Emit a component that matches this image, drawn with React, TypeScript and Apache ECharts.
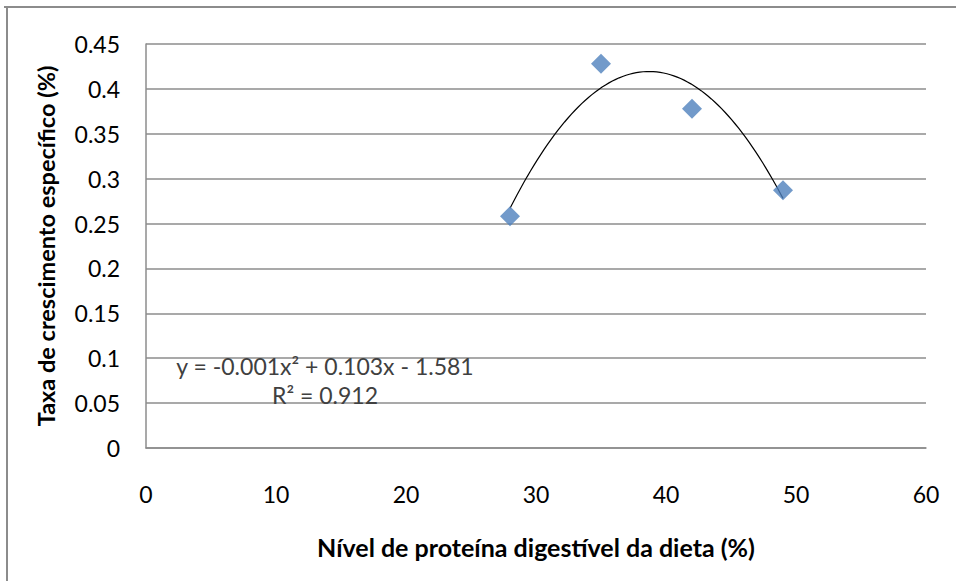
import React, { useEffect, useRef } from "react";
import * as echarts from "echarts";

// Data
const proteinLevels: number[] = [28, 35, 42, 49];
const growthRates: number[] = [0.258, 0.428, 0.378, 0.287];

const xTicks = { min: 0, max: 60, interval: 10 };
const yTicks = { min: 0, max: 0.45, interval: 0.05 };

const xTitle = "Nível de proteína digestível da dieta (%)";
const yTitle = "Taxa de crescimento específico (%)";
const equationText = "y = -0.001x² + 0.103x - 1.581";
const r2Text = "R² = 0.912";

// Least-squares quadratic fit (the trendline of the original)
function quadFit(xs: number[], ys: number[]): [number, number, number] {
  const n = xs.length;
  let s0 = n, s1 = 0, s2 = 0, s3 = 0, s4 = 0, t0 = 0, t1 = 0, t2 = 0;
  for (let i = 0; i < n; i++) {
    const x = xs[i], y = ys[i];
    s1 += x; s2 += x * x; s3 += x * x * x; s4 += x * x * x * x;
    t0 += y; t1 += x * y; t2 += x * x * y;
  }
  const M = [
    [s4, s3, s2, t2],
    [s3, s2, s1, t1],
    [s2, s1, s0, t0],
  ];
  for (let c = 0; c < 3; c++) {
    let p = c;
    for (let r = c + 1; r < 3; r++) if (Math.abs(M[r][c]) > Math.abs(M[p][c])) p = r;
    [M[c], M[p]] = [M[p], M[c]];
    for (let r = 0; r < 3; r++) {
      if (r === c) continue;
      const f = M[r][c] / M[c][c];
      for (let k = c; k < 4; k++) M[r][k] -= f * M[c][k];
    }
  }
  return [M[0][3] / M[0][0], M[1][3] / M[1][1], M[2][3] / M[2][2]];
}

export default function App() {
  const ref = useRef<HTMLDivElement>(null);

  useEffect(() => {
    if (!ref.current) return;
    const chart = echarts.init(ref.current, null, { renderer: "svg" });

    const [a, b, c] = quadFit(proteinLevels, growthRates);
    const x0 = Math.min(...proteinLevels);
    const x1 = Math.max(...proteinLevels);
    const trend: number[][] = [];
    const steps = 80;
    for (let i = 0; i <= steps; i++) {
      const x = x0 + ((x1 - x0) * i) / steps;
      trend.push([x, a * x * x + b * x + c]);
    }

    const font = "Lato, 'Open Sans', sans-serif";

    chart.setOption({
      animation: false,
      backgroundColor: "#ffffff",
      grid: { left: 146, top: 44, right: 30, bottom: 133, containLabel: false },
      xAxis: {
        type: "value",
        min: xTicks.min,
        max: xTicks.max,
        interval: xTicks.interval,
        name: xTitle,
        nameLocation: "middle",
        nameGap: 86,
        nameTextStyle: { fontFamily: font, fontSize: 25, fontWeight: "bold", color: "#000" },
        axisLine: { show: true, lineStyle: { color: "#8c8c8c", width: 1.5 } },
        axisTick: { show: false },
        axisLabel: { fontFamily: font, fontSize: 23, color: "#000", margin: 34 },
        splitLine: { show: false },
      },
      yAxis: {
        type: "value",
        min: yTicks.min,
        max: yTicks.max,
        interval: yTicks.interval,
        name: yTitle,
        nameLocation: "middle",
        nameGap: 88,
        nameTextStyle: { fontFamily: font, fontSize: 23.5, fontWeight: "bold", color: "#000" },
        axisLine: { show: true, lineStyle: { color: "#8c8c8c", width: 1.5 } },
        axisTick: { show: false },
        axisLabel: {
          fontFamily: font,
          fontSize: 23,
          color: "#000",
          margin: 26,
          formatter: (v: number) => String(parseFloat(v.toFixed(2))),
        },
        splitLine: { show: true, lineStyle: { color: "#8c8c8c", width: 1.5 } },
      },
      series: [
        {
          type: "line",
          data: trend,
          showSymbol: false,
          symbol: "none",
          smooth: false,
          lineStyle: { color: "#000", width: 1.2 },
          z: 2,
        },
        {
          type: "scatter",
          data: proteinLevels.map((x, i) => [x, growthRates[i]]),
          symbol: "diamond",
          symbolSize: 20,
          itemStyle: { color: "#4F81BD" },
          z: 3,
        },
      ],
      graphic: [
        {
          type: "line",
          shape: { x1: 4, y1: 7, x2: 956, y2: 7 },
          style: { stroke: "#8c8c8c", lineWidth: 2 },
        },
        {
          type: "line",
          shape: { x1: 7, y1: 7, x2: 7, y2: 581 },
          style: { stroke: "#8c8c8c", lineWidth: 2 },
        },
        {
          type: "text",
          x: 325,
          y: 366,
          style: {
            text: equationText,
            fontFamily: font,
            fontSize: 23,
            fill: "#404040",
            textAlign: "center",
            textVerticalAlign: "middle",
          },
          z: 10,
        },
        {
          type: "text",
          x: 325,
          y: 395,
          style: {
            text: r2Text,
            fontFamily: font,
            fontSize: 23,
            fill: "#404040",
            textAlign: "center",
            textVerticalAlign: "middle",
          },
          z: 10,
        },
      ],
    });

    return () => chart.dispose();
  }, []);

  return (
    <div
      ref={ref}
      style={{ position: "fixed", left: 0, top: 0, width: 956, height: 581 }}
    />
  );
}
